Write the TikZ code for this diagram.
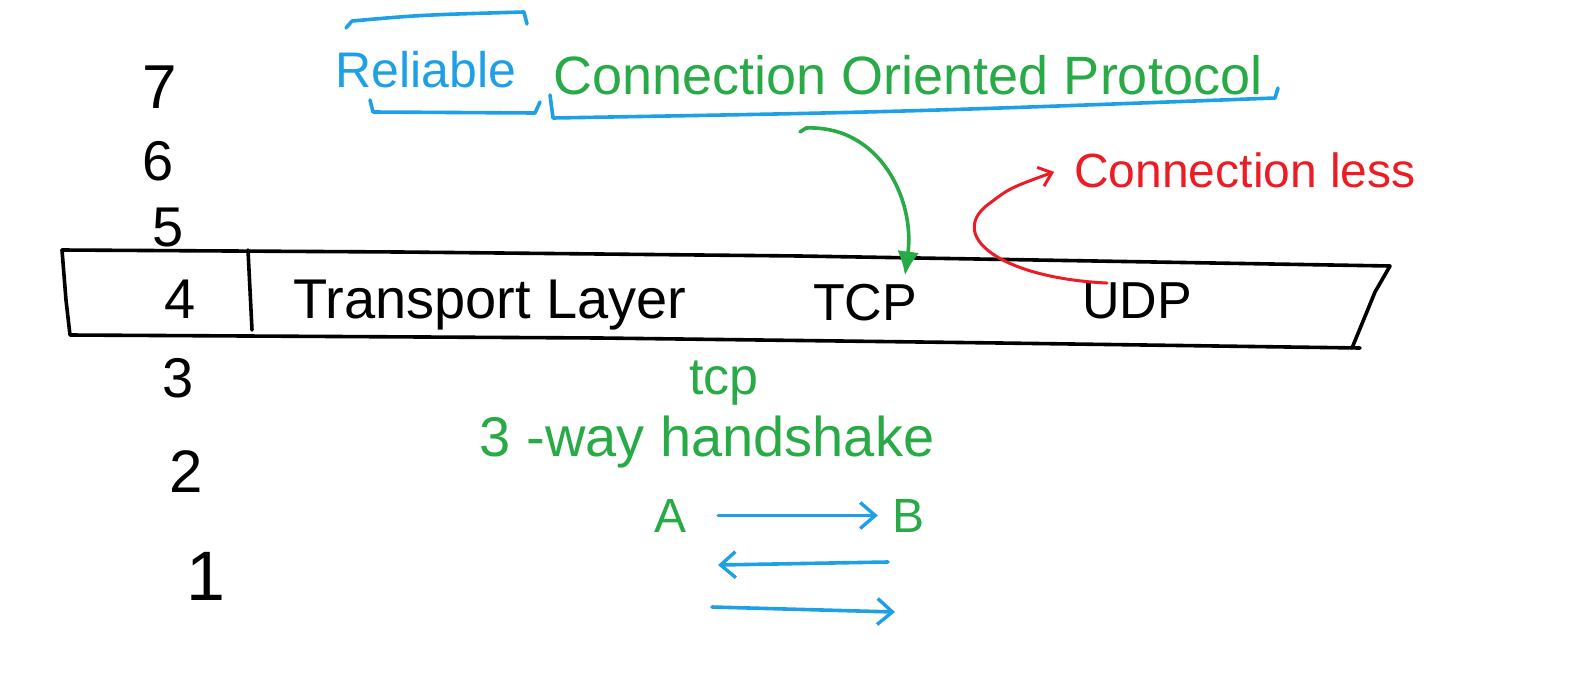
\documentclass[tikz,border=0pt]{standalone}
\usepackage{fontspec}
\setmainfont{Liberation Sans}
\usetikzlibrary{arrows.meta}
\definecolor{inkblue}{RGB}{30,160,230}
\definecolor{inkgreen}{RGB}{40,170,70}
\definecolor{inkred}{RGB}{237,28,36}
\begin{document}
\begin{tikzpicture}[x=1pt,y=-1pt,
  ink/.style={line width=3.6pt, line cap=round, line join=round},
  lbl/.style={inner sep=0pt, anchor=base},
  fs/.style={font=\fontsize{#1}{#1}\selectfont},
  barb/.style={-{Straight Barb[length=15pt,width=26pt,line width=3.4pt]}}
]
\useasboundingbox (0,0) rectangle (1579,683);

% layer numbers
\node[lbl,fs=62] (n7) at (160,108) {7};
\node[lbl,fs=56] (n6) at (158,180) {6};
\node[lbl,fs=56] (n5) at (168,246) {5};
\node[lbl,fs=56] (n4) at (180,318) {4};
\node[lbl,fs=56] (n3) at (178,397) {3};
\node[lbl,fs=60] (n2) at (186,492) {2};
\node[lbl,fs=70] (n1) at (206,600) {1};

% transport layer band
\draw[ink] (62,250) -- (400,252) -- (800,256) -- (1390,266) -- (1375,292) -- (1352,348);
\draw[ink] (62,250) -- (66,300) -- (70,335) -- (600,338) -- (1000,343) -- (1360,348);
\draw[ink] (248,250) -- (252,330);

\node[lbl,fs=56] (tl) at (490,318) {Transport Layer};
\node[lbl,fs=52] (tcp) at (865,320) {TCP};
\node[lbl,fs=52] (udp) at (1137,318) {UDP};

% reliable + brackets
\node[lbl,fs=50,text=inkblue] (rel) at (426,87) {Reliable};
\draw[ink,inkblue] (346,28) -- (352,21) .. controls (420,15) .. (524,12) -- (527,24);
\draw[ink,inkblue] (370,100) -- (373,112) -- (535,113) -- (540,102);

\node[lbl,fs=54,text=inkgreen] (cop) at (908,94) {Connection Oriented Protocol};
\draw[ink,inkblue] (550,95) -- (553,118) .. controls (900,112) .. (1275,98) -- (1278,88);

% green arrow to TCP
\coordinate (gstart) at (800,132);
\draw[ink,inkgreen,-{Latex[length=24pt,width=22pt]}] (gstart) -- (806,128) .. controls (880,125) and (915,200) .. ([xshift=40pt,yshift=8pt]tcp.north);

% red arrow from UDP
\node[lbl,fs=48,text=inkred] (cl) at (1245,187) {Connection less};
\draw[ink,inkred,line width=3pt,-{Straight Barb[length=12pt,width=20pt,line width=3pt]}] ([xshift=-30pt,yshift=-1pt]udp.north) .. controls (1000,278) and (945,235) .. (990,203) .. controls (1010,188) .. ([xshift=-20pt,yshift=-2pt]cl.west);

% handshake
\node[lbl,fs=52,text=inkgreen] (tcps) at (724,394) {tcp};
\node[lbl,fs=56,text=inkgreen] (hs) at (707,456) {3 -way handshake};
\node[lbl,fs=48,text=inkgreen] (A) at (670,532) {A};
\node[lbl,fs=48,text=inkgreen] (B) at (908,532) {B};

\coordinate (a2) at (718,565);
\coordinate (b2) at (888,562);
\coordinate (a3) at (712,607);
\coordinate (b3) at (895,612);
\draw[ink,inkblue,barb,shorten <=32pt,shorten >=14pt] (A) -- (B);
\draw[ink,inkblue,barb] (b2) -- (a2);
\draw[ink,inkblue,barb] (a3) -- (b3);
\end{tikzpicture}
\end{document}
